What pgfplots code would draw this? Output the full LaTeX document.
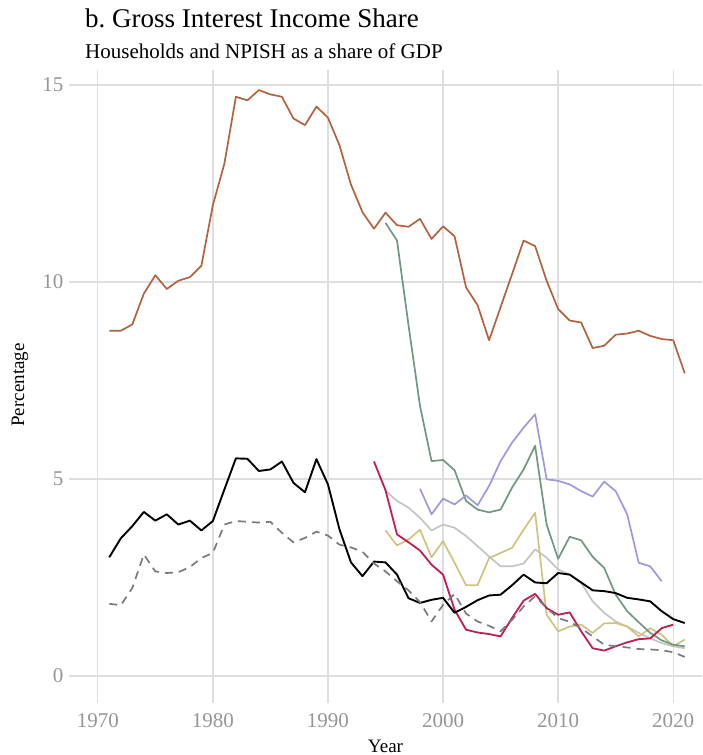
\documentclass[border=0pt]{standalone}
\usepackage{pgfplots}
\pgfplotsset{compat=1.18}
\usepackage{fontspec}
\setmainfont{Liberation Serif}
\definecolor{cbrown}{RGB}{178,98,61}
\definecolor{cgreen}{RGB}{112,152,128}
\definecolor{cpurple}{RGB}{156,153,222}
\definecolor{clgrey}{RGB}{196,196,196}
\definecolor{ckhaki}{RGB}{209,194,127}
\definecolor{cred}{RGB}{194,29,79}
\definecolor{cdash}{RGB}{122,122,122}
\definecolor{cgrid}{RGB}{222,222,226}
\definecolor{ctick}{RGB}{150,150,150}
\begin{document}
\begin{tikzpicture}
\path[use as bounding box] (-69pt,-52pt) rectangle (633pt,703pt);
\begin{axis}[at={(0pt,0pt)}, anchor=south west, scale only axis,
  width=633pt, height=633pt,
  xmin=1967.5, xmax=2022.5, ymin=-0.69, ymax=15.38,
  axis line style={draw=none}, major tick length=0pt,
  xmajorgrids, ymajorgrids,
  grid style={color=cgrid, line width=1.4pt},
  xtick={1970,1980,1990,2000,2010,2020}, ytick={0,5,10,15},
  /pgf/number format/assume math mode=true,
  x tick label style={/pgf/number format/1000 sep={}, yshift=-7pt},
  y tick label style={xshift=-2pt},
  tick label style={font=\fontsize{21}{24}\selectfont, text=ctick},
  every axis plot/.append style={line width=1.7pt, line join=round},
]
\addplot[cbrown] coordinates {(1971,8.76)(1972,8.76)(1973,8.92)(1974,9.70)(1975,10.17)(1976,9.82)(1977,10.03)(1978,10.12)(1979,10.41)(1980,11.95)(1981,13.0)(1982,14.70)(1983,14.61)(1984,14.87)(1985,14.76)(1986,14.70)(1987,14.15)(1988,13.98)(1989,14.45)(1990,14.17)(1991,13.47)(1992,12.47)(1993,11.77)(1994,11.35)(1995,11.76)(1996,11.44)(1997,11.40)(1998,11.60)(1999,11.09)(2000,11.41)(2001,11.16)(2002,9.86)(2003,9.41)(2004,8.52)(2005,9.36)(2006,10.20)(2007,11.05)(2008,10.91)(2009,10.03)(2010,9.31)(2011,9.02)(2012,8.97)(2013,8.32)(2014,8.38)(2015,8.66)(2016,8.69)(2017,8.76)(2018,8.63)(2019,8.55)(2020,8.52)(2021,7.68)};
\addplot[clgrey] coordinates {(1995,4.70)(1996,4.44)(1997,4.27)(1998,4.01)(1999,3.69)(2000,3.84)(2001,3.76)(2002,3.55)(2003,3.29)(2004,3.03)(2005,2.78)(2006,2.78)(2007,2.85)(2008,3.21)(2009,3.00)(2010,2.70)(2011,2.57)(2012,2.36)(2013,1.89)(2014,1.60)(2015,1.38)(2016,1.25)(2017,1.09)(2018,0.95)(2019,0.83)(2020,0.75)(2021,0.70)};
\addplot[ckhaki] coordinates {(1995,3.69)(1996,3.31)(1997,3.46)(1998,3.71)(1999,3.01)(2000,3.42)(2001,2.87)(2002,2.30)(2003,2.30)(2004,2.99)(2005,3.12)(2006,3.25)(2007,3.71)(2008,4.14)(2009,1.55)(2010,1.13)(2011,1.25)(2012,1.30)(2013,1.09)(2014,1.33)(2015,1.34)(2016,1.25)(2017,1.00)(2018,1.21)(2019,1.04)(2020,0.75)(2021,0.92)};
\addplot[cgreen] coordinates {(1995,11.50)(1996,11.05)(1997,8.9)(1998,6.85)(1999,5.45)(2000,5.48)(2001,5.22)(2002,4.44)(2003,4.22)(2004,4.15)(2005,4.22)(2006,4.78)(2007,5.24)(2008,5.84)(2009,3.84)(2010,2.97)(2011,3.53)(2012,3.44)(2013,3.02)(2014,2.74)(2015,2.06)(2016,1.64)(2017,1.36)(2018,1.09)(2019,0.90)(2020,0.79)(2021,0.75)};
\addplot[cpurple] coordinates {(1998,4.75)(1999,4.10)(2000,4.50)(2001,4.35)(2002,4.58)(2003,4.33)(2004,4.82)(2005,5.45)(2006,5.92)(2007,6.30)(2008,6.64)(2009,4.99)(2010,4.95)(2011,4.86)(2012,4.69)(2013,4.55)(2014,4.93)(2015,4.69)(2016,4.10)(2017,2.87)(2018,2.78)(2019,2.40)};
\addplot[cred, line width=1.8pt] coordinates {(1994,5.44)(1995,4.71)(1996,3.59)(1997,3.39)(1998,3.18)(1999,2.82)(2000,2.57)(2001,1.68)(2002,1.17)(2003,1.10)(2004,1.06)(2005,1.00)(2006,1.47)(2007,1.91)(2008,2.08)(2009,1.72)(2010,1.55)(2011,1.61)(2012,1.13)(2013,0.70)(2014,0.64)(2015,0.75)(2016,0.85)(2017,0.93)(2018,0.95)(2019,1.21)(2020,1.30)};
\addplot[black, line width=1.9pt] coordinates {(1971,3.01)(1972,3.49)(1973,3.80)(1974,4.16)(1975,3.94)(1976,4.10)(1977,3.84)(1978,3.94)(1979,3.69)(1980,3.93)(1981,4.73)(1982,5.52)(1983,5.51)(1984,5.20)(1985,5.24)(1986,5.44)(1987,4.90)(1988,4.66)(1989,5.50)(1990,4.86)(1991,3.72)(1992,2.88)(1993,2.53)(1994,2.90)(1995,2.88)(1996,2.57)(1997,1.97)(1998,1.85)(1999,1.93)(2000,1.98)(2001,1.60)(2002,1.75)(2003,1.92)(2004,2.04)(2005,2.06)(2006,2.30)(2007,2.57)(2008,2.37)(2009,2.35)(2010,2.61)(2011,2.57)(2012,2.37)(2013,2.17)(2014,2.15)(2015,2.10)(2016,1.98)(2017,1.94)(2018,1.89)(2019,1.64)(2020,1.44)(2021,1.34)};
\addplot[cdash, line width=1.7pt, dash pattern=on 8pt off 6pt] coordinates {(1971,1.83)(1972,1.79)(1973,2.23)(1974,3.08)(1975,2.65)(1976,2.61)(1977,2.63)(1978,2.76)(1979,2.99)(1980,3.12)(1981,3.84)(1982,3.93)(1983,3.91)(1984,3.89)(1985,3.91)(1986,3.63)(1987,3.39)(1988,3.50)(1989,3.66)(1990,3.56)(1991,3.33)(1992,3.26)(1993,3.15)(1994,2.85)(1995,2.65)(1996,2.40)(1997,2.17)(1998,1.87)(1999,1.38)(2000,1.80)(2001,2.08)(2002,1.58)(2003,1.38)(2004,1.27)(2005,1.13)(2006,1.42)(2007,1.76)(2008,2.02)(2009,1.72)(2010,1.47)(2011,1.37)(2012,1.21)(2013,1.00)(2014,0.79)(2015,0.75)(2016,0.72)(2017,0.68)(2018,0.67)(2019,0.65)(2020,0.60)(2021,0.48)};
\end{axis}
\node[anchor=base west, inner sep=0pt] at (16pt,675pt) {\fontsize{27}{30}\selectfont b.\ Gross Interest Income Share};
\node[anchor=base west, inner sep=0pt] at (16pt,644pt) {\fontsize{21}{24}\selectfont Households and NPISH as a share of GDP};
\node[rotate=90, anchor=center, inner sep=0pt] at (-49pt,318pt) {\fontsize{19}{22}\selectfont Percentage};
\node[anchor=center, inner sep=0pt] at (316.5pt,-43pt) {\fontsize{19}{22}\selectfont Year};
\end{tikzpicture}
\end{document}
